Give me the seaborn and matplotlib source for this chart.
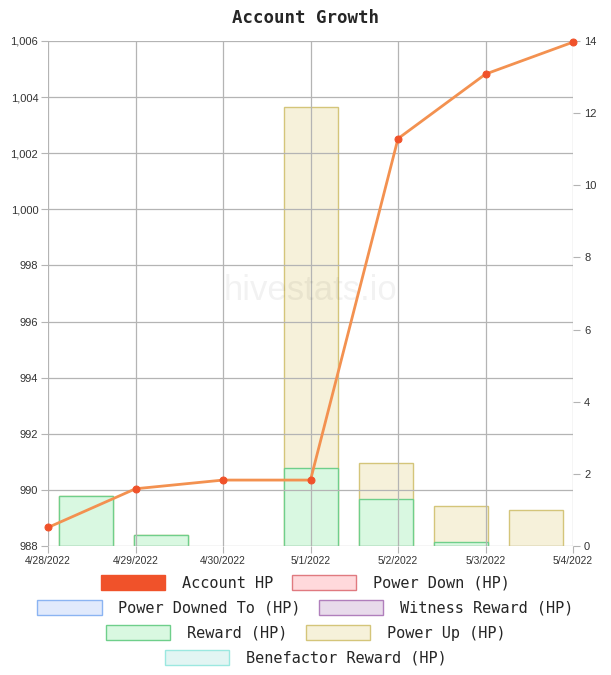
import numpy as np
import pandas as pd
import seaborn as sns
from matplotlib import pyplot as plt
from matplotlib.patches import Patch
from matplotlib.ticker import FuncFormatter

# values
dates = ["4/28/2022", "4/29/2022", "4/30/2022", "5/1/2022", "5/2/2022", "5/3/2022", "5/4/2022"]
account_hp = [988.66, 990.04, 990.35, 990.35, 1002.52, 1004.82, 1005.96]
reward_hp = [1.38, 0.30, 0.0, 2.17, 1.29, 0.10, 0.0]
power_up_hp = [0.0, 0.0, 0.0, 10.0, 1.0, 1.01, 1.0]

legend_labels = [
    "Account HP",
    "Power Down (HP)",
    "Power Downed To (HP)",
    "Witness Reward (HP)",
    "Reward (HP)",
    "Power Up (HP)",
    "Benefactor Reward (HP)",
]
legend_faces = ["#f0522a", "#ffd9dc", "#e1eafc", "#e8dbeb", "#d9f8e1", "#f6f1da", "#e2f5f3"]
legend_edges = ["#f0522a", "#e07a80", "#8bb4f2", "#b07fbc", "#6fcf8b", "#d4c57a", "#9be8e0"]

LINE_COLOR = "#f39150"
MARKER_COLOR = "#f0522a"
GRID_COLOR = "#b4b4b4"

sns.set_style("white")
plt.rcParams["font.family"] = ["Liberation Sans", "DejaVu Sans"]

W, H = 611, 675
fig = plt.figure(figsize=(W / 100, H / 100), dpi=100)
rect = [48 / W, 1 - 546 / H, (573 - 48) / W, (546 - 41) / H]

# bars: category bands, right axis
ax_bar = fig.add_axes(rect)
df = pd.DataFrame({"date": dates, "reward": reward_hp, "power_up": power_up_hp})
df["total"] = df["reward"] + df["power_up"]

sns.barplot(data=df, x="date", y="total", ax=ax_bar, color="#f6f1da",
            saturation=1, width=0.72, edgecolor="#d4c57a", linewidth=1)
sns.barplot(data=df, x="date", y="reward", ax=ax_bar, color="#d9f8e1",
            saturation=1, width=0.72, edgecolor="#6fcf8b", linewidth=1)
for p in ax_bar.patches:
    p.set_facecolor(p.get_facecolor()[:3])
    if p.get_height() <= 0:
        p.set_visible(False)

ax_bar.set_xlim(-0.5, len(dates) - 0.5)
ax_bar.set_ylim(0, 14)
ax_bar.set_yticks(np.arange(0, 15, 2))
ax_bar.yaxis.tick_right()
ax_bar.set_xticks([])
ax_bar.set_xlabel("")
ax_bar.set_ylabel("")
ax_bar.tick_params(axis="y", right=True, length=5, width=0.8, color=GRID_COLOR,
                   labelsize=8, labelcolor="#333333", pad=3)
for s in ax_bar.spines.values():
    s.set_visible(False)

# line: time axis, left axis
ax_line = fig.add_axes(rect)
ax_line.patch.set_visible(False)
x_dates = pd.to_datetime(dates, format="%m/%d/%Y")
sns.lineplot(x=x_dates, y=account_hp, ax=ax_line, color=LINE_COLOR, linewidth=2,
             marker="o", markersize=5, markerfacecolor=MARKER_COLOR,
             markeredgecolor=MARKER_COLOR, clip_on=False, zorder=5)
ax_line.set_xlim(x_dates[0], x_dates[-1])
ax_line.set_ylim(988, 1006)
ax_line.set_yticks(np.arange(988, 1007, 2))
ax_line.yaxis.set_major_formatter(FuncFormatter(lambda v, _: f"{v:,.0f}"))
ax_line.set_xticks(x_dates)
ax_line.set_xticklabels(dates)
ax_line.set_xlabel("")
ax_line.set_ylabel("")
ax_line.grid(True, color=GRID_COLOR, linewidth=0.9)
ax_line.tick_params(axis="both", length=5, width=0.8, color=GRID_COLOR,
                    labelcolor="#333333", pad=2)
ax_line.tick_params(axis="y", labelsize=8, left=True)
ax_line.tick_params(axis="x", labelsize=7.4, bottom=True)
for s in ax_line.spines.values():
    s.set_visible(False)

# faint watermark
ax_line.text(0.5, 1 - (290 - 41) / 505, "hivestats.io", transform=ax_line.transAxes,
             ha="center", va="center", fontsize=25, color="black", alpha=0.05, zorder=1)

fig.text(0.5, 1 - 18 / H, "Account Growth", ha="center", va="center",
         fontsize=12.5, fontweight="bold", family="DejaVu Sans Mono")

# legend rows, centred like the original
rows = [[0, 1], [2, 3], [4, 5], [6]]
for r, idxs in enumerate(rows):
    handles = [Patch(facecolor=legend_faces[i], edgecolor=legend_edges[i],
                     linewidth=1, label=legend_labels[i]) for i in idxs]
    fig.legend(handles=handles, loc="center", bbox_to_anchor=(0.5, 1 - (583 + 25 * r) / H),
               ncol=len(idxs), frameon=False,
               prop={"family": "DejaVu Sans Mono", "size": 11},
               handlelength=4.2, handleheight=1.1, handletextpad=1.1,
               columnspacing=1.2, borderpad=0, borderaxespad=0)

fig.savefig("out.png", dpi=100)
